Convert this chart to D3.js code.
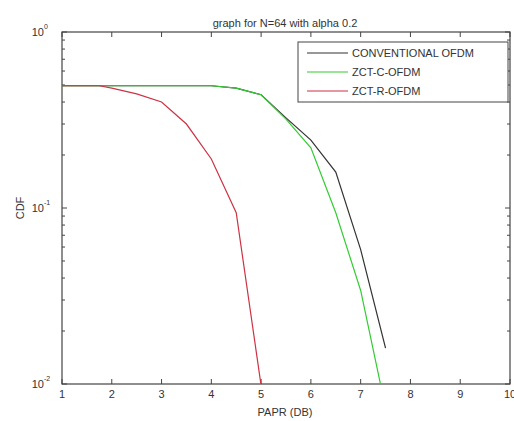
<!DOCTYPE html>
<html><head><meta charset="utf-8">
<script src="https://cdn.jsdelivr.net/npm/d3@7"></script>
<style>
body{margin:0;background:#fff;}
text{font-family:"Liberation Sans",Arial,sans-serif;fill:#333;}
</style></head>
<body><svg id="c" width="514" height="421"></svg>
<script>
const title = "graph for N=64 with alpha 0.2";
const xLabel = "PAPR (DB)";
const yLabel = "CDF";
const xTicks = [1,2,3,4,5,6,7,8,9,10];
const yTicks = [0.01,0.1,1];
const yTickExp = ["-2","-1","0"];
const seriesNames = ["CONVENTIONAL OFDM","ZCT-C-OFDM","ZCT-R-OFDM"];
const seriesColors = ["#333333","#33cc33","#cc3344"];
const convX = [1,1.5,2,2.5,3,3.5,4,4.5,5,5.5,6,6.5,7,7.5];
const convY = [0.495,0.495,0.495,0.495,0.495,0.495,0.495,0.48,0.44,0.325,0.243,0.16,0.058,0.016];
const zctcX = [1,1.5,2,2.5,3,3.5,4,4.5,5,5.5,6,6.5,7,7.5];
const zctcY = [0.495,0.495,0.495,0.495,0.495,0.495,0.495,0.48,0.44,0.32,0.22,0.094,0.034,0.0073];
const zctrX = [1,1.5,1.75,2,2.5,3,3.5,4,4.5,5];
const zctrY = [0.495,0.495,0.495,0.48,0.445,0.40,0.30,0.19,0.094,0.0098];

const svg = d3.select("#c");
const L=62,R=510,T=32,B=384;
const x = d3.scaleLinear().domain([1,10]).range([L,R]);
const y = d3.scaleLog().domain([0.01,1]).range([B,T]);
const axisColor="#444";

const clipId="clip";
svg.append("clipPath").attr("id",clipId).append("rect").attr("x",L).attr("y",T).attr("width",R-L).attr("height",B-T);

// frame
svg.append("rect").attr("x",L).attr("y",T).attr("width",R-L).attr("height",B-T)
  .attr("fill","none").attr("stroke",axisColor).attr("stroke-width",1.2);

// x ticks (inward, top and bottom)
const g = svg.append("g");
xTicks.forEach(v=>{
  const px=x(v);
  g.append("line").attr("x1",px).attr("x2",px).attr("y1",B).attr("y2",B-5).attr("stroke",axisColor);
  g.append("line").attr("x1",px).attr("x2",px).attr("y1",T).attr("y2",T+5).attr("stroke",axisColor);
  g.append("text").attr("x",px).attr("y",B+14).attr("text-anchor","middle").attr("font-size",11).text(v);
});
// y ticks major + minor
const minor=[];
[0.01,0.1].forEach(d=>{for(let k=2;k<=9;k++)minor.push(d*k);});
yTicks.forEach(v=>{
  const py=y(v);
  g.append("line").attr("x1",L).attr("x2",L+5).attr("y1",py).attr("y2",py).attr("stroke",axisColor);
  g.append("line").attr("x1",R).attr("x2",R-5).attr("y1",py).attr("y2",py).attr("stroke",axisColor);
});
minor.forEach(v=>{
  const py=y(v);
  g.append("line").attr("x1",L).attr("x2",L+3).attr("y1",py).attr("y2",py).attr("stroke",axisColor);
  g.append("line").attr("x1",R).attr("x2",R-3).attr("y1",py).attr("y2",py).attr("stroke",axisColor);
});
yTicks.forEach((v,i)=>{
  const t=g.append("text").attr("x",L-18).attr("y",y(v)+4).attr("text-anchor","end").attr("font-size",11);
  t.append("tspan").text("10");
  g.append("text").attr("x",L-18).attr("y",y(v)-3).attr("font-size",7).text(yTickExp[i]);
});

// lines
const line = d3.line().x(d=>x(d[0])).y(d=>y(d[1]));
const data=[d3.zip(convX,convY),d3.zip(zctcX,zctcY),d3.zip(zctrX,zctrY)];
const lg = svg.append("g").attr("clip-path","url(#"+clipId+")");
data.forEach((d,i)=>{
  lg.append("path").datum(d).attr("d",line).attr("fill","none")
    .attr("stroke",seriesColors[i]).attr("stroke-width",1.2);
});

// title & labels
svg.append("text").attr("x",285).attr("y",27).attr("text-anchor","middle").attr("font-size",11).text(title);
svg.append("text").attr("x",285).attr("y",416).attr("text-anchor","middle").attr("font-size",11).text(xLabel);
svg.append("text").attr("transform","translate(24,208) rotate(-90)").attr("text-anchor","middle").attr("font-size",11).text(yLabel);

// legend
const lgx=298, lgy=42, lgw=210, lgh=60;
svg.append("rect").attr("x",lgx).attr("y",lgy).attr("width",lgw).attr("height",lgh)
  .attr("fill","#fff").attr("stroke",axisColor).attr("stroke-width",1);
seriesNames.forEach((n,i)=>{
  const cy=lgy+11+i*19;
  svg.append("line").attr("x1",307).attr("x2",348).attr("y1",cy).attr("y2",cy).attr("stroke",seriesColors[i]).attr("stroke-width",1.2);
  svg.append("text").attr("x",352).attr("y",cy+4).attr("font-size",11).text(n);
});
</script></body></html>
